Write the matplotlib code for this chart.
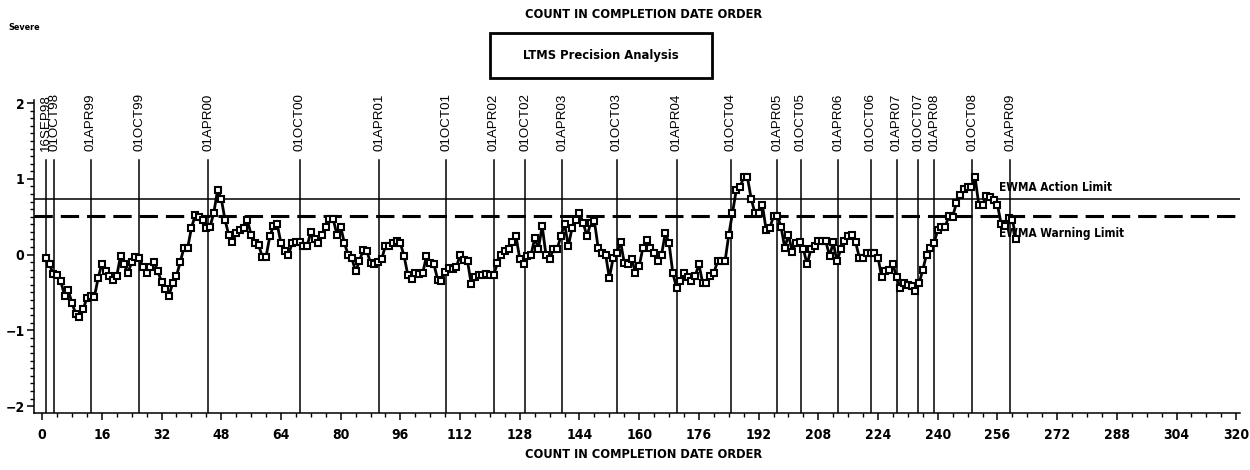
import matplotlib
matplotlib.use("Agg")
import matplotlib.pyplot as plt
from matplotlib.ticker import MultipleLocator

# ---- data ----
values = [
    -0.05, -0.13, -0.26, -0.27, -0.35, -0.54, -0.47, -0.64, -0.78, -0.82,
    -0.72, -0.57, -0.55, -0.56, -0.31, -0.12, -0.22, -0.28, -0.33, -0.28,
    -0.02, -0.13, -0.24, -0.10, -0.03, -0.04, -0.16, -0.24, -0.17, -0.10,
    -0.22, -0.36, -0.45, -0.54, -0.37, -0.28, -0.10, 0.09, 0.09, 0.35,
    0.52, 0.50, 0.46, 0.35, 0.37, 0.55, 0.85, 0.74, 0.46, 0.26,
    0.16, 0.29, 0.33, 0.35, 0.46, 0.26, 0.15, 0.13, -0.03, -0.03,
    0.24, 0.38, 0.40, 0.15, 0.05, 0.00, 0.15, 0.16, 0.16, 0.11,
    0.11, 0.30, 0.20, 0.15, 0.26, 0.37, 0.47, 0.47, 0.26, 0.37,
    0.15, 0.00, -0.05, -0.22, -0.09, 0.06, 0.05, -0.11, -0.13, -0.10,
    -0.06, 0.12, 0.12, 0.15, 0.18, 0.15, -0.02, -0.27, -0.32, -0.24,
    -0.25, -0.24, -0.02, -0.11, -0.13, -0.33, -0.35, -0.23, -0.18, -0.19,
    -0.17, 0.00, -0.07, -0.09, -0.39, -0.30, -0.27, -0.27, -0.26, -0.27,
    -0.27, -0.11, 0.00, 0.05, 0.08, 0.16, 0.24, -0.06, -0.13, -0.02,
    -0.01, 0.22, 0.08, 0.38, 0.00, -0.06, 0.07, 0.07, 0.24, 0.41,
    0.11, 0.35, 0.46, 0.55, 0.42, 0.24, 0.42, 0.44, 0.09, 0.02,
    0.00, -0.31, -0.05, 0.02, 0.17, -0.11, -0.13, -0.06, -0.24, -0.15,
    0.09, 0.19, 0.09, 0.02, -0.09, 0.00, 0.29, 0.15, -0.24, -0.44,
    -0.35, -0.24, -0.30, -0.35, -0.28, -0.13, -0.37, -0.37, -0.28, -0.24,
    -0.09, -0.09, -0.09, 0.26, 0.55, 0.85, 0.89, 1.02, 1.02, 0.74,
    0.55, 0.55, 0.66, 0.33, 0.35, 0.51, 0.51, 0.37, 0.09, 0.26,
    0.04, 0.15, 0.16, 0.07, -0.13, 0.07, 0.11, 0.18, 0.18, 0.18,
    -0.02, 0.16, -0.09, 0.07, 0.18, 0.24, 0.26, 0.16, -0.04, -0.04,
    0.02, 0.02, 0.02, -0.04, -0.30, -0.22, -0.20, -0.13, -0.30, -0.44,
    -0.38, -0.40, -0.42, -0.48, -0.38, -0.20, 0.00, 0.09, 0.15, 0.33,
    0.37, 0.37, 0.51, 0.50, 0.68, 0.79, 0.87, 0.89, 0.89, 1.02,
    0.66, 0.66, 0.77, 0.76, 0.72, 0.66, 0.40, 0.38, 0.48, 0.46,
    0.21,
]
counts = list(range(1, len(values) + 1))

date_labels = ["16SEP98", "01OCT98", "01APR99", "01OCT99", "01APR00", "01OCT00",
               "01APR01", "01OCT01", "01APR02", "01OCT02", "01APR03", "01OCT03",
               "01APR04", "01OCT04", "01APR05", "01OCT05", "01APR06", "01OCT06",
               "01APR07", "01OCT07", "01APR08", "01OCT08", "01APR09"]
date_counts = [1, 3.3, 13, 26, 44.5, 69, 90.3, 108.3, 121, 129.4, 139.4, 154,
               170, 184.5, 197, 203.3, 213.3, 222, 229, 234.8, 239, 249.3, 259.4]

action_limit = 0.73
warning_limit = 0.51

x_ticks = list(range(0, 321, 16))
y_ticks = [-2, -1, 0, 1, 2]

# ---- fonts ----
COND = dict(family=["DejaVu Sans"], fontstretch="condensed")
ARIAL = ["Liberation Sans", "DejaVu Sans"]

fig = plt.figure(figsize=(12.5, 4.7), dpi=100)
ax = fig.add_axes([0.02744, 0.1213, 0.992 - 0.02744, 0.7872 - 0.1213])

ax.set_xlim(-2.1, 321)
ax.set_ylim(-2.09, 2.04)

# limits
ax.axhline(action_limit, color="black", lw=1.1, zorder=2)
ax.axhline(warning_limit, color="black", lw=2.2, dashes=(6, 2.6), zorder=2)

# date reference lines
for dc, dl in zip(date_counts, date_labels):
    ax.plot([dc, dc], [-2.09, 1.245], color="black", lw=1.1, zorder=2)
    ax.text(dc, 1.37, dl, rotation=90, ha="center", va="bottom",
            fontsize=9.6, family=ARIAL, clip_on=False)

# data series
ax.plot(counts, values, color="black", lw=2.0, marker="s", ms=5.0,
        mfc="white", mec="black", mew=1.5, zorder=3)

ax.text(256.5, 0.89, "EWMA Action Limit", fontsize=8.5, fontweight="bold",
        ha="left", va="center", **COND)
ax.text(256.5, 0.28, "EWMA Warning Limit", fontsize=8.5, fontweight="bold",
        ha="left", va="center", **COND)

# axes styling
for s in ["top", "right"]:
    ax.spines[s].set_visible(False)
for s in ["left", "bottom"]:
    ax.spines[s].set_linewidth(1.1)

ax.set_xticks(x_ticks)
ax.set_yticks(y_ticks)
ax.set_yticklabels([str(t).replace("-", "\u2212") for t in y_ticks])
ax.xaxis.set_minor_locator(MultipleLocator(4))
ax.yaxis.set_minor_locator(MultipleLocator(0.1))
ax.tick_params(axis="both", which="major", length=5, width=1.1, direction="out",
               labelsize=10)
ax.tick_params(axis="both", which="minor", length=3, width=1.0, direction="out")
for lab in ax.get_xticklabels() + ax.get_yticklabels():
    lab.set_family(COND["family"])
    lab.set_stretch("condensed")
    lab.set_fontweight("bold")
ax.tick_params(axis="x", pad=6)
ax.tick_params(axis="y", pad=2)

# titles
fig.text(0.515, 1 - 14 / 470, "COUNT IN COMPLETION DATE ORDER", ha="center",
         va="center", fontsize=9.2, fontweight="bold", **COND)
fig.text(0.515, 1 - 455 / 470, "COUNT IN COMPLETION DATE ORDER", ha="center",
         va="center", fontsize=9.2, fontweight="bold", **COND)
fig.text(8 / 1250, 1 - 27 / 470, "Severe", ha="left", va="center",
         fontsize=6.5, fontweight="bold", **COND)

# boxed subtitle
bx0, bx1, by0, by1 = 490 / 1250, 712 / 1250, 1 - 78 / 470, 1 - 33 / 470
fig.patches.append(plt.Rectangle((bx0, by0), bx1 - bx0, by1 - by0,
                                 transform=fig.transFigure, fill=False,
                                 lw=2.0, ec="black"))
fig.text((bx0 + bx1) / 2, (by0 + by1) / 2, "LTMS Precision Analysis",
         ha="center", va="center", fontsize=9.3, fontweight="bold", **COND)

fig.savefig("out.png", dpi=100)
